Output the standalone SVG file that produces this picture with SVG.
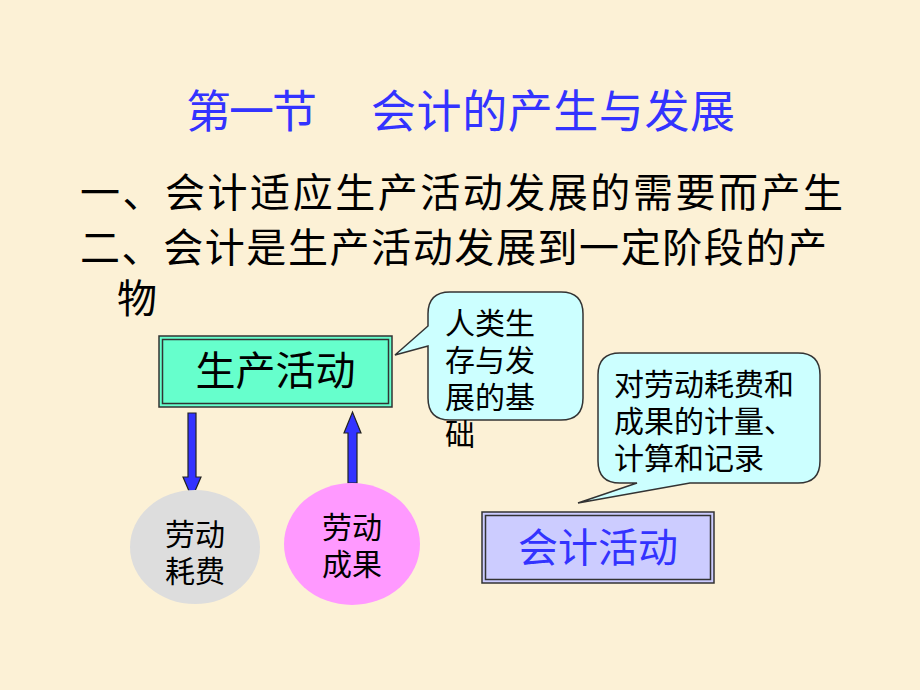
<svg xmlns="http://www.w3.org/2000/svg" width="920" height="690" viewBox="0 0 920 690">
<defs>
<style>
.cjk{font-family:"Noto Sans CJK SC","Noto Sans CJK TC",sans-serif;}
.title{fill:#3333FF;font-size:45px;}
.body{fill:#000;font-size:40px;}
.call{fill:#000;font-size:30px;}
.bubble{fill:#CCFFFF;stroke:#333;stroke-width:1.5;}
.arrow{fill:#3333FF;stroke:#222;stroke-width:1.2;}
</style>
</defs>
<rect x="0" y="0" width="920" height="690" fill="#FCF1D6"/>

<g id="title" class="cjk title">
<text x="186" y="128" textLength="131">第一节</text>
<text x="371" y="128" textLength="364">会计的产生与发展</text>
</g>

<g id="points" class="cjk body">
<text x="80" y="207" textLength="763">一、会计适应生产活动发展的需要而产生</text>
<text x="80" y="262" textLength="747">二、会计是生产活动发展到一定阶段的产</text>
<text x="117" y="313">物</text>
</g>

<g id="connectors">
<polygon class="arrow" points="188,413 196,413 196,477 201,477 192,498 183,477 188,477"/>
<polygon class="arrow" points="348,483 357,483 357,433 361,433 352.5,412 344,433 348,433"/>
</g>

<g id="production">
<rect x="159" y="336" width="233" height="71" fill="#66FFCC" stroke="#333" stroke-width="1.5"/>
<rect x="162.5" y="339.5" width="226" height="64" fill="none" stroke="#333" stroke-width="1.5"/>
<text class="cjk" x="275.5" y="385" font-size="40" text-anchor="middle" fill="#000">生产活动</text>
</g>

<g id="callout1">
<path class="bubble" d="M450,292 H561 Q583,292 583,314 V398 Q583,420 561,420 H450 Q428,420 428,398 V346 L395,355 L428,326 V314 Q428,292 450,292 Z"/>
<text class="cjk call"><tspan x="445" y="334">人类生</tspan><tspan x="445" y="371">存与发</tspan><tspan x="445" y="408">展的基</tspan><tspan x="445" y="445">础</tspan></text>
</g>

<g id="callout2">
<path class="bubble" d="M620,353 H798 Q820,353 820,375 V461 Q820,483 798,483 H690 L578,503 L637,483 H620 Q598,483 598,461 V375 Q598,353 620,353 Z"/>
<text class="cjk call"><tspan x="614" y="395">对劳动耗费和</tspan><tspan x="614" y="432">成果的计量、</tspan><tspan x="614" y="469">计算和记录</tspan></text>
</g>

<g id="accounting">
<rect x="482" y="512" width="232" height="71" fill="#CCCCFF" stroke="#333" stroke-width="1.5"/>
<rect x="485.5" y="515.5" width="225" height="64" fill="none" stroke="#333" stroke-width="1.5"/>
<text class="cjk" x="598" y="562" font-size="40" text-anchor="middle" fill="#3333FF">会计活动</text>
</g>

<g id="consumption">
<ellipse cx="195" cy="547" rx="65" ry="57" fill="#DDDDDD"/>
<text class="cjk" font-size="30" text-anchor="middle" fill="#000"><tspan x="195" y="545">劳动</tspan><tspan x="195" y="582">耗费</tspan></text>
</g>

<g id="results">
<ellipse cx="352" cy="544" rx="68" ry="61" fill="#FF99FF"/>
<text class="cjk" font-size="30" text-anchor="middle" fill="#000"><tspan x="352" y="538">劳动</tspan><tspan x="352" y="575">成果</tspan></text>
</g>
</svg>
